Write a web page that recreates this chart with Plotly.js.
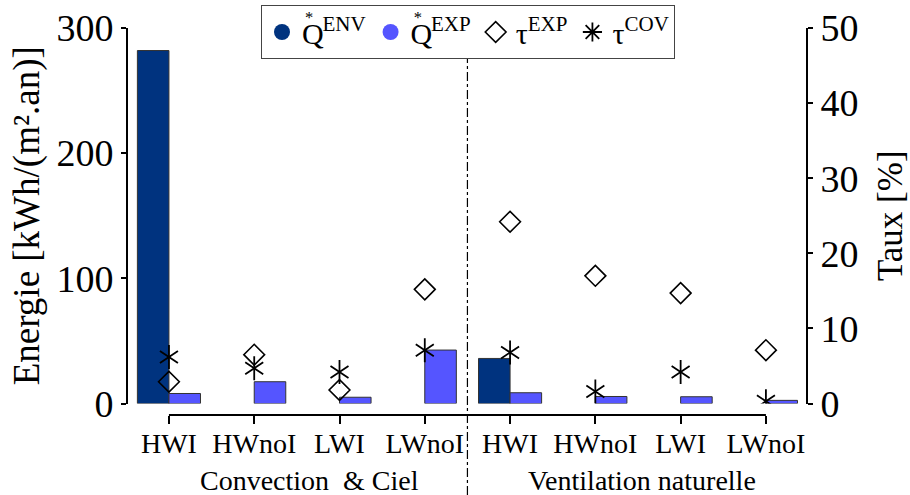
<!DOCTYPE html>
<html>
<head>
<meta charset="utf-8">
<script src="https://cdn.plot.ly/plotly-3.0.1.min.js"></script>
<style>html,body{margin:0;padding:0;background:#fff;}#chart{width:910px;height:495px;}</style>
</head>
<body>
<div id="chart"></div>
<script>
// ---- data ----
const categories = ["HWI", "HWnoI", "LWI", "LWnoI", "HWI", "HWnoI", "LWI", "LWnoI"];
const groupLabels = ["Convection  & Ciel", "Ventilation naturelle"];
const qEnv = [282, null, null, null, 36, null, null, null];
const qExp = [8, 17.4, 5, 42.7, 8.6, 5.6, 5.4, 2.5];
const tauExp = [2.9, 6.5, 1.8, 15.2, 24.2, 17.0, 14.7, 7.1];
const tauCov = [6.2, 4.7, 4.2, 7.1, 6.8, 1.6, 4.2, 0.3];
const leftTicks = [0, 100, 200, 300];
const rightTicks = [0, 10, 20, 30, 40, 50];

const xs = categories.map((c, i) => i);
const FONT = "Liberation Serif, Times New Roman, serif";
const dark = "#00337f";
const light = "#5555ff";
const qStar = '<span style="letter-spacing:-0.62em">Q</span><span style="font-size:55%;baseline-shift:1.25em;letter-spacing:0.55em">*</span>';

const traces = [
  {type: "bar", x: xs, y: qEnv, marker: {color: dark, line: {color: "#333", width: 1}}, showlegend: false, hoverinfo: "y"},
  {type: "bar", x: xs, y: qExp, marker: {color: light, line: {color: "#333", width: 1}}, showlegend: false, hoverinfo: "y"},
  // legend-only entries (circle symbols as in the reference legend)
  {type: "scatter", mode: "markers", x: [null], y: [null], name: qStar + "<sup>ENV</sup>", marker: {symbol: "circle", size: 18, color: dark}},
  {type: "scatter", mode: "markers", x: [null], y: [null], name: qStar + "<sup>EXP</sup>", marker: {symbol: "circle", size: 18, color: light}},
  {type: "scatter", mode: "markers", x: xs, y: tauExp, yaxis: "y2", name: "\u03C4<sup>EXP</sup>",
   marker: {symbol: "diamond-open", size: 16, color: "#000", line: {color: "#000", width: 1.6}}},
  {type: "scatter", mode: "markers", x: [null], y: [null], yaxis: "y2", name: "\u03C4<sup>COV</sup>",
   marker: {symbol: "asterisk-open", size: 16, color: "#000", line: {color: "#000", width: 1.8}}},
  {type: "scatter", mode: "markers", x: xs, y: tauCov, yaxis: "y2", showlegend: false, hoverinfo: "skip",
   marker: {symbol: "y-down-open", size: 15, color: "#000", line: {color: "#000", width: 1.8}}},
  {type: "scatter", mode: "markers", x: xs, y: tauCov, yaxis: "y2", showlegend: false,
   marker: {symbol: "y-up-open", size: 15, color: "#000", line: {color: "#000", width: 1.8}}}
];

const plotTop = 28, axisY = 415, baseY = 403.5, H = 495;
const plotH = axisY - plotTop;
const yDom0 = (axisY - baseY) / plotH;

const layout = {
  width: 910, height: 495,
  margin: {l: 128, r: 104, t: plotTop, b: H - axisY, autoexpand: false},
  paper_bgcolor: "#fff", plot_bgcolor: "#fff",
  font: {family: FONT, color: "#000", size: 28},
  barmode: "group", bargap: 0.26, bargroupgap: 0,
  showlegend: true,
  legend: {
    orientation: "h", xref: "container", yref: "container",
    x: 468 / 910, xanchor: "center", y: 1 - 5 / 495, yanchor: "top",
    bordercolor: "#444", borderwidth: 1, bgcolor: "#fff",
    font: {family: FONT, size: 30}, itemwidth: 30, tracegroupgap: 0
  },
  xaxis: {
    range: [-0.48, 7.47], tickmode: "array", tickvals: xs, ticktext: categories,
    showline: false, showgrid: false, zeroline: false,
    ticks: "outside", ticklen: 8, tickwidth: 2, tickcolor: "#000", ticklabelstandoff: -5,
    tickfont: {family: FONT, size: 28}, anchor: "free", position: 0
  },
  yaxis: {
    domain: [yDom0, 1], range: [0, 300], tickvals: leftTicks,
    showline: true, linewidth: 2, linecolor: "#000", showgrid: false, zeroline: false,
    ticks: "outside", ticklen: 5, tickwidth: 2, tickcolor: "#000",
    tickfont: {family: FONT, size: 38},
    title: {text: "Energie [kWh/(m\u00B2.an)]", font: {family: FONT, size: 37}, standoff: 5}
  },
  yaxis2: {
    overlaying: "y", side: "right", range: [0, 50], tickvals: rightTicks,
    showline: true, linewidth: 2, linecolor: "#000", showgrid: false, zeroline: false,
    ticks: "outside", ticklen: 5, tickwidth: 2, tickcolor: "#000",
    tickfont: {family: FONT, size: 38},
    title: {text: "Taux [%]", font: {family: FONT, size: 35}, standoff: 20}
  },
  shapes: [
    {type: "line", xref: "x", yref: "paper", x0: 0, x1: 7, y0: 0, y1: 0, line: {color: "#000", width: 2}},
    {type: "line", xref: "x", yref: "paper", x0: 3.5, x1: 3.5, y0: -(H - axisY) / plotH, y1: (axisY - 56) / plotH,
     line: {color: "#000", width: 1.2, dash: "dashdot"}}
  ],
  annotations: [
    {xref: "x", yref: "paper", x: 1.65, y: (axisY - 480) / plotH, yanchor: "middle", showarrow: false,
     text: groupLabels[0], font: {family: FONT, size: 28}},
    {xref: "x", yref: "paper", x: 5.55, y: (axisY - 480) / plotH, yanchor: "middle", showarrow: false,
     text: groupLabels[1], font: {family: FONT, size: 28}}
  ]
};

Plotly.newPlot("chart", traces, layout, {displayModeBar: false, staticPlot: true});
</script>
</body>
</html>
